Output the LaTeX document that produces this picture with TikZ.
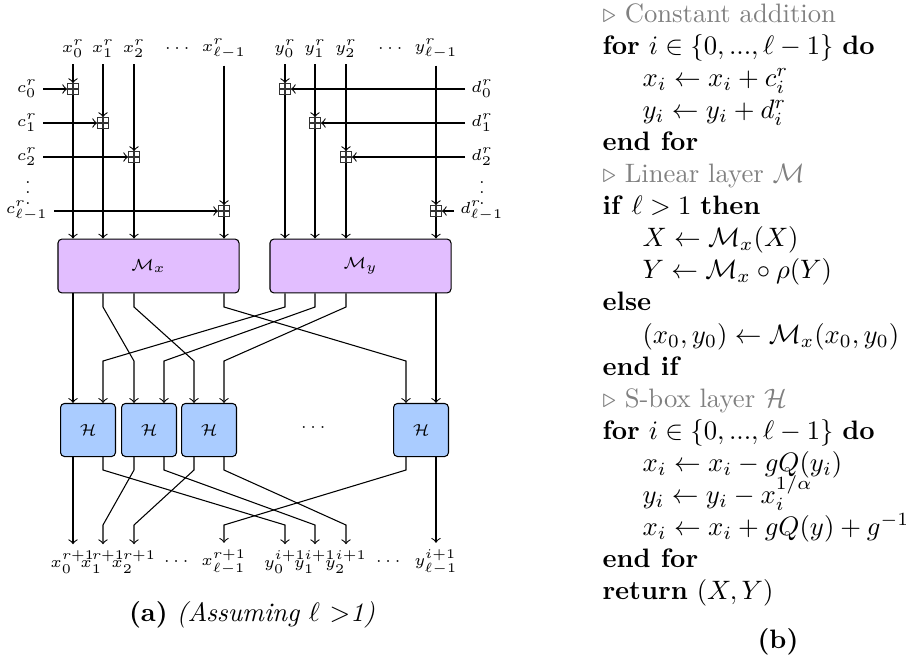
\documentclass[tikz,border=0pt]{standalone}
\usepackage{amsmath}
\usepackage{amssymb}
\usepackage{xcolor}
\usepackage{tikz}
\usetikzlibrary{calc}

\definecolor{mpurple}{RGB}{226,190,255}
\definecolor{hblue}{RGB}{170,204,255}

\tikzset{
	lbl/.style={font=\fontsize{6}{7}\selectfont, inner sep=2.2pt},
	adder/.style={draw=black!80, rectangle, minimum size=4pt, inner sep=0pt,
		path picture={\draw[black!80] (path picture bounding box.north) -- (path picture bounding box.south)
			(path picture bounding box.west) -- (path picture bounding box.east);}},
	mbox/.style={draw, rounded corners=1.5pt, fill=mpurple, minimum width=67.9pt,
		minimum height=20.2pt, font=\fontsize{6}{7}\selectfont},
	hbox/.style={draw, rounded corners=1.5pt, fill=hblue, minimum width=20.6pt,
		minimum height=19.9pt, font=\fontsize{6}{7}\selectfont},
	algline/.style={anchor=base west, inner sep=0pt},
}
\newcommand{\kw}[1]{\textbf{#1}}
\newcommand{\cmt}[1]{\textcolor{gray}{$\triangleright$ #1}}

\begin{document}
\begin{tikzpicture}[x=0.375pt, y=-0.375pt]
	\useasboundingbox (0,0) rectangle (906,655);
	% Linear layer
	\node[mbox] (Mx) at (148.5,266) {$\mathcal{M}_x$};
	\node[mbox] (My) at (360.5,266) {$\mathcal{M}_y$};
	% Constant addition
	\foreach \x/\y/\s [count=\i from 0] in {73/89/0,103/123/1,134/157/2,224/211/{\ell-1}} {
		\node[lbl] (xin\i) at (\x,49) {$x^r_{\s}$};
		\node[adder] (ax\i) at (\x,\y) {};
		\node[lbl] (c\i) at (27,\y) {$c^r_{\s}$};
		\draw[->] (xin\i) -- (ax\i);
		\draw[->] (c\i) -- (ax\i);
		\draw[->] (ax\i) -- (ax\i |- Mx.north);
	}
	\foreach \x/\y/\s [count=\i from 0] in {285/89/0,315/123/1,346/157/2,436/211/{\ell-1}} {
		\node[lbl] (yin\i) at (\x,49) {$y^r_{\s}$};
		\node[adder] (ay\i) at (\x,\y) {};
		\node[lbl] (d\i) at (482,\y) {$d^r_{\s}$};
		\draw[->] (yin\i) -- (ay\i);
		\draw[->] (d\i) -- (ay\i);
		\draw[->] (ay\i) -- (ay\i |- My.north);
	}
	\node[lbl] (xdots) at (179,49) {$\cdots$};
	\node[lbl] (ydots) at (392,49) {$\cdots$};
	\node[lbl] (cdots) at (28,185) {$\vdots$};
	\node[lbl] (ddots) at (482,185) {$\vdots$};
	% S-box layer
	\foreach \c [count=\k] in {88,149,209,421} {
		\node[hbox] (H\k) at (\c,430) {$\mathcal{H}$};
		\coordinate (hl\k) at (\c-15,0);
		\coordinate (hr\k) at (\c+15,0);
	}
	\node[font=\fontsize{6}{7}\selectfont] (hdots) at (315,428) {$\cdots$};
	\coordinate (mb) at (0,307);
	\coordinate (mc) at (0,361);
	\coordinate (hb) at (0,470);
	\coordinate (hc) at (0,525);
	% M -> H
	\draw[->] (xin0 |- Mx.south) -- (hl1 |- H1.north);
	\draw[->] (yin3 |- My.south) -- (hr4 |- H4.north);
	\foreach \a/\b in {xin1/hl2,xin2/hl3,xin3/hl4,yin0/hr1,yin1/hr2,yin2/hr3}
	\draw[->] (\a |- Mx.south) -- (\a |- mb) -- (\b |- mc) -- (\b |- H1.north);
	% outputs
	\foreach \x/\s [count=\i from 0] in {73/0,103/1,134/2,224/{\ell-1}}
	\node[lbl] (xo\i) at (\x,562) {$x^{r+1}_{\s}$};
	\foreach \x/\s [count=\i from 0] in {285/0,315/1,346/2,436/{\ell-1}}
	\node[lbl] (yo\i) at (\x,562) {$y^{i+1}_{\s}$};
	\node[lbl] (xodots) at (178,562) {$\cdots$};
	\node[lbl] (yodots) at (390,562) {$\cdots$};
	% H -> outputs
	\draw[->] (hl1 |- H1.south) -- (xo0);
	\draw[->] (hr4 |- H4.south) -- (yo3);
	\foreach \a/\b in {hr1/yo0,hl2/xo1,hr2/yo1,hl3/xo2,hr3/yo2,hl4/xo3}
	\draw[->] (\a |- H1.south) -- (\a |- hb) -- (\b |- hc) -- (\b);
	\node (capa) at (252,615) {\textbf{(a)} \textit{(Assuming $\ell$ $>$1)}};
	% Algorithm
	\foreach \ind/\txt [count=\k from 0] in {
		0/{\cmt{Constant addition}},
		0/{\kw{for} $i \in \{0,...,\ell-1\}$ \kw{do}},
		1/{$x_i \leftarrow x_i + c_i^r$},
		1/{$y_i \leftarrow y_i + d_i^r$},
		0/{\kw{end for}},
		0/{\cmt{Linear layer $\mathcal{M}$}},
		0/{\kw{if} $\ell > 1$ \kw{then}},
		1/{$X \leftarrow \mathcal{M}_x(X)$},
		1/{$Y \leftarrow \mathcal{M}_x \circ \rho(Y)$},
		0/{\kw{else}},
		1/{$(x_0,y_0) \leftarrow \mathcal{M}_x(x_0,y_0)$},
		0/{\kw{end if}},
		0/{\cmt{S-box layer $\mathcal{H}$}},
		0/{\kw{for} $i \in \{0,...,\ell-1\}$ \kw{do}},
		1/{$x_i \leftarrow x_i - gQ(y_i)$},
		1/{$y_i \leftarrow y_i - x_i^{1/\alpha}$},
		1/{$x_i \leftarrow x_i + gQ(y) + g^{-1}$},
		0/{\kw{end for}},
		0/{\kw{return} $(X,Y)$}}
	\node[algline] (alg\k) at (602+40*\ind,22+32.1*\k) {\txt};
	\node (capb) at (778,642) {\textbf{(b)}};
\end{tikzpicture}
\end{document}
